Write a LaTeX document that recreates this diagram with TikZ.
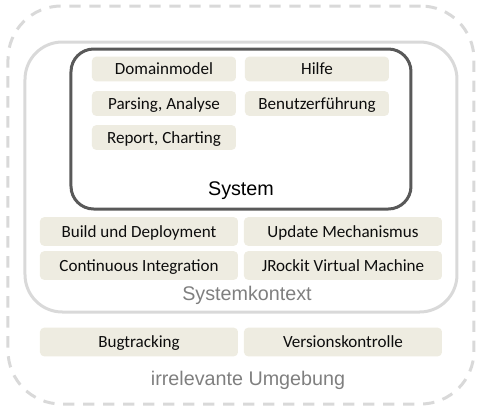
\documentclass[tikz,border=0pt]{standalone}
\usepackage{fontspec}
\setmainfont{Carlito}
\newfontfamily\arialfont{Liberation Sans}
\definecolor{beige}{RGB}{238,236,225}
\definecolor{lightline}{RGB}{217,217,217}
\definecolor{darkline}{RGB}{89,89,89}
\definecolor{labelgray}{RGB}{127,127,127}
\begin{document}
\begin{tikzpicture}[x=0.75pt,y=-0.75pt,
  box/.style={fill=beige,rounded corners=3pt,inner sep=0pt,outer sep=0pt,
    font=\fontsize{12.8}{14}\selectfont,text=black!95,text height=8.3pt,text depth=0pt},
  smallbox/.style={box,minimum width=108pt,minimum height=18.4pt},
  widebox/.style={box,minimum width=148.5pt,minimum height=21.4pt},
  container/.style={inner sep=0pt,outer sep=0pt,line width=2.25pt},
  biglabel/.style={font=\arialfont\fontsize{14.8}{17}\selectfont,inner sep=0pt}
]
\useasboundingbox (0,0) rectangle (480,411);
% containers
\node[container,draw=lightline,dash pattern=on 8.5pt off 6.5pt,rounded corners=40pt,
  minimum width=349.5pt,minimum height=298.5pt] (umgebung) at (241,205) {};
\node[container,draw=lightline,rounded corners=28pt,
  minimum width=324pt,minimum height=202.5pt] (kontext) at (241,177) {};
\node[container,draw=darkline,fill=white,rounded corners=17pt,
  minimum width=255pt,minimum height=120pt] (system) at (241,129) {};
% system boxes
\node[smallbox] (domain) at (164,69) {Domainmodel};
\node[smallbox] (hilfe) at (317,69) {Hilfe};
\node[smallbox] (parsing) at (164,103.5) {Parsing, Analyse};
\node[smallbox] (benutzer) at (317,103.5) {Benutzerführung};
\node[smallbox] (report) at (164,137.5) {Report, Charting};
\node[biglabel,text=black] (systemlbl) at (241,191) {System};
% context boxes
\node[widebox] (build) at (139,231.5) {Build und Deployment};
\node[widebox] (update) at (343,231.5) {Update Mechanismus};
\node[widebox] (ci) at (139,265.5) {Continuous Integration};
\node[widebox] (jrockit) at (343,265.5) {JRockit Virtual Machine};
\node[biglabel,text=labelgray] (kontextlbl) at (247,295) {Systemkontext};
% environment boxes
\node[widebox] (bug) at (139,342) {Bugtracking};
\node[widebox] (vcs) at (343,342) {Versionskontrolle};
\node[biglabel,text=labelgray] (umgebunglbl) at (248,380) {irrelevante Umgebung};
\end{tikzpicture}
\end{document}
